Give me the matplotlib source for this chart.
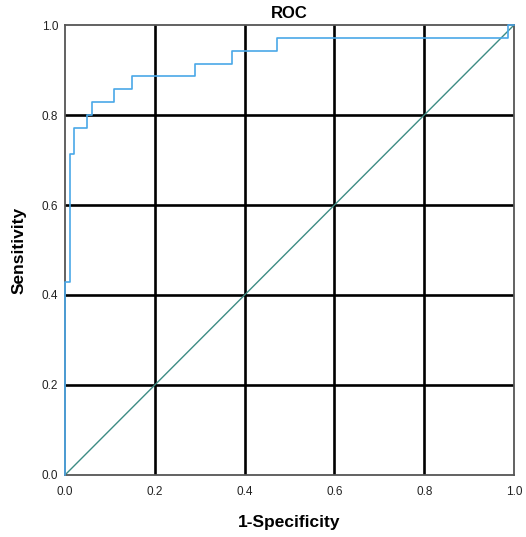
import matplotlib.pyplot as plt
import numpy as np

plt.rcParams['font.family'] = ['Liberation Sans', 'DejaVu Sans']

# ROC corner points
fpr = [0.0, 0.0, 0.01, 0.01, 0.02, 0.02, 0.05, 0.05, 0.059, 0.059, 0.11, 0.11,
       0.15, 0.15, 0.29, 0.29, 0.372, 0.372, 0.472, 0.472, 0.987, 0.987, 1.0]
tpr = [0.0, 0.429, 0.429, 0.714, 0.714, 0.771, 0.771, 0.8, 0.8, 0.829, 0.829, 0.857,
       0.857, 0.886, 0.886, 0.914, 0.914, 0.943, 0.943, 0.971, 0.971, 1.0, 1.0]
ref_line = [0.0, 1.0]
ticks = [0.0, 0.2, 0.4, 0.6, 0.8, 1.0]
tick_labels = ['0.0', '0.2', '0.4', '0.6', '0.8', '1.0']

fig = plt.figure(figsize=(5.26, 5.37), dpi=100)
ax = fig.add_axes([0.1236, 0.1155, 0.8536, 0.8379])

# grid first so the curves sit on top
for t in ticks[1:-1]:
    ax.axvline(t, color='black', lw=1.9, zorder=1)
    ax.axhline(t, color='black', lw=1.9, zorder=1)

ax.plot(ref_line, ref_line, color='#3d8c84', lw=1.0, zorder=2)
# not clipped, so the part on the left spine stays visible
ax.plot(fpr, tpr, color='#4aa8e8', lw=1.2, zorder=4, clip_on=False)

ax.set_xlim(0, 1)
ax.set_ylim(0, 1)
ax.set_xticks(ticks)
ax.set_yticks(ticks)
ax.set_xticklabels(tick_labels)
ax.set_yticklabels(tick_labels)
ax.tick_params(axis='both', length=0, labelsize=8.5, colors='#222222')
ax.tick_params(axis='x', pad=8)
ax.tick_params(axis='y', pad=5)

for side in ax.spines.values():
    side.set_color('#555555')
    side.set_linewidth(1.3)

ax.set_title('ROC', fontsize=12, fontweight='bold', pad=5)
ax.set_xlabel('1-Specificity', fontsize=12.5, fontweight='bold', labelpad=12)
ax.set_ylabel('Sensitivity', fontsize=12.5, fontweight='bold', labelpad=11)

plt.savefig('out.png', dpi=100)
plt.close(fig)
